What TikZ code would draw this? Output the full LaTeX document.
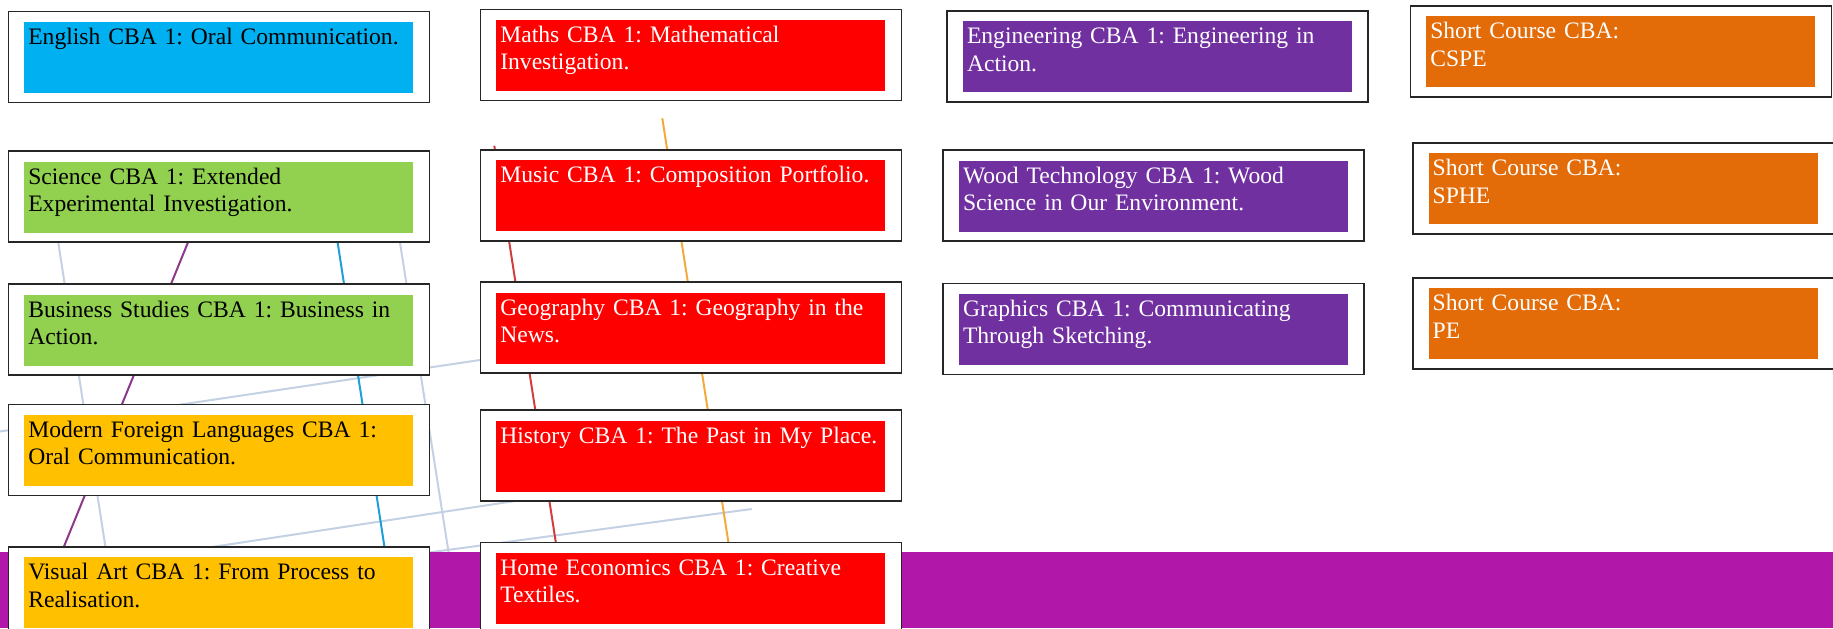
\documentclass[tikz,border=0pt]{standalone}
\usepackage{fontspec}
\setmainfont{Liberation Serif}
\usepackage{tikz}
\usetikzlibrary{positioning}
\frenchspacing
\definecolor{cbablue}{HTML}{00B0F0}
\definecolor{cbagreen}{HTML}{92D050}
\definecolor{cbayellow}{HTML}{FFC000}
\definecolor{cbared}{HTML}{FF0000}
\definecolor{cbapurple}{HTML}{7030A0}
\definecolor{cbaorange}{HTML}{E36C09}
\definecolor{bandpurple}{RGB}{177,24,170}
\definecolor{linegrey}{RGB}{196,208,228}
\definecolor{linepurple}{HTML}{8B3A8B}
\definecolor{linecyan}{HTML}{1E9FD8}
\definecolor{linered}{RGB}{210,62,62}
\definecolor{lineorange}{HTML}{F2AA3C}
\tikzstyle{outerbox} = [rectangle, draw=black!85, line width=0.8pt, fill=white, minimum width=210.5pt, minimum height=45.5pt, inner sep=0pt, outer sep=0pt, anchor=north west]
\tikzstyle{cba} = [rectangle, text width=190.5pt, align=left, inner xsep=2pt, inner ysep=0pt, outer sep=0pt, text height=11.3pt, text depth=24.2pt, font=\fontsize{11.8pt}{13.7pt}\selectfont]
\tikzstyle{dark} = [cba, text=black]
\tikzstyle{light} = [cba, text=white]
\tikzstyle{bgline} = [draw=linegrey, line width=1pt]
\tikzstyle{thread} = [line width=1pt]

\begin{document}
\begin{tikzpicture}[x=0.5pt, y=-0.5pt]
	\useasboundingbox (0,0) rectangle (1833,628);
	% background lines
	\path [bgline] (57.1,235) -- (106.7,555);
	\path [bgline] (398.8,235) -- (449,555);
	\path [bgline] (0,431.5) -- (490,358.5);
	\path [bgline] (212,547) -- (515,501);
	\path [bgline] (425,553) -- (751.7,509);
	\draw [thread, linepurple] (191,235) -- (60.5,555);
	\draw [thread, linecyan]   (336.5,235) -- (385.7,555);
	\draw [thread, linered]    (494.3,145.7) -- (557,550);
	\draw [thread, lineorange] (662.3,118.3) -- (729.6,550);
	% purple band
	\fill [bandpurple] (0,552) rectangle (1833,628);

	% place frames
	\node [outerbox] (F1)  at (8.3,11.3)   {};
	\node [outerbox] (F2)  at (8.3,151)    {};
	\node [outerbox] (F3)  at (8.3,284)    {};
	\node [outerbox] (F4)  at (8.3,404.3)  {};
	\node [outerbox] (F5)  at (8.3,546.7)  {};
	\node [outerbox] (F6)  at (480.3,9.3)  {};
	\node [outerbox] (F7)  at (480.3,149.7) {};
	\node [outerbox] (F8)  at (480.3,282)  {};
	\node [outerbox] (F9)  at (480.3,410)  {};
	\node [outerbox] (F10) at (480.3,542.3) {};
	\node [outerbox] (F11) at (947,10.7)   {};
	\node [outerbox] (F12) at (943,150)    {};
	\node [outerbox] (F13) at (943,283.3)  {};
	\node [outerbox] (F14) at (1410.3,5.7) {};
	\node [outerbox] (F15) at (1412.7,142.7) {};
	\node [outerbox] (F16) at (1412.7,277.7) {};

	% place cards
	\node [dark, fill=cbablue, below right=5.25pt and 8pt of F1.north west]    (C1) {English CBA 1: Oral Communication.};
	\node [dark, fill=cbagreen, below right=5.25pt and 8pt of F2.north west]   (C2) {Science CBA 1: Extended\\Experimental Investigation.};
	\node [dark, fill=cbagreen, below right=5.25pt and 8pt of F3.north west]   (C3) {Business Studies CBA 1: Business in\\Action.};
	\node [dark, fill=cbayellow, below right=5.25pt and 8pt of F4.north west]  (C4) {Modern Foreign Languages CBA 1:\\Oral Communication.};
	\node [dark, fill=cbayellow, below right=5.25pt and 8pt of F5.north west]  (C5) {Visual Art CBA 1: From Process to\\Realisation.};
	\node [light, fill=cbared, below right=5.25pt and 8pt of F6.north west]    (C6) {Maths CBA 1: Mathematical\\Investigation.};
	\node [light, fill=cbared, below right=5.25pt and 8pt of F7.north west]    (C7) {Music CBA 1: Composition Portfolio.};
	\node [light, fill=cbared, below right=5.25pt and 8pt of F8.north west]    (C8) {Geography CBA 1: Geography in the\\News.};
	\node [light, fill=cbared, below right=5.25pt and 8pt of F9.north west]    (C9) {History CBA 1: The Past in My Place.};
	\node [light, fill=cbared, below right=5.25pt and 8pt of F10.north west]   (C10) {Home Economics CBA 1: Creative\\Textiles.};
	\node [light, fill=cbapurple, below right=5.25pt and 8pt of F11.north west] (C11) {Engineering CBA 1: Engineering in\\Action.};
	\node [light, fill=cbapurple, below right=5.25pt and 8pt of F12.north west] (C12) {Wood Technology CBA 1: Wood\\Science in Our Environment.};
	\node [light, fill=cbapurple, below right=5.25pt and 8pt of F13.north west] (C13) {Graphics CBA 1: Communicating\\Through Sketching.};
	\node [light, fill=cbaorange, below right=5.25pt and 8pt of F14.north west] (C14) {Short Course CBA:\\CSPE};
	\node [light, fill=cbaorange, below right=5.25pt and 8pt of F15.north west] (C15) {Short Course CBA:\\SPHE};
	\node [light, fill=cbaorange, below right=5.25pt and 8pt of F16.north west] (C16) {Short Course CBA:\\PE};
\end{tikzpicture}
\end{document}
